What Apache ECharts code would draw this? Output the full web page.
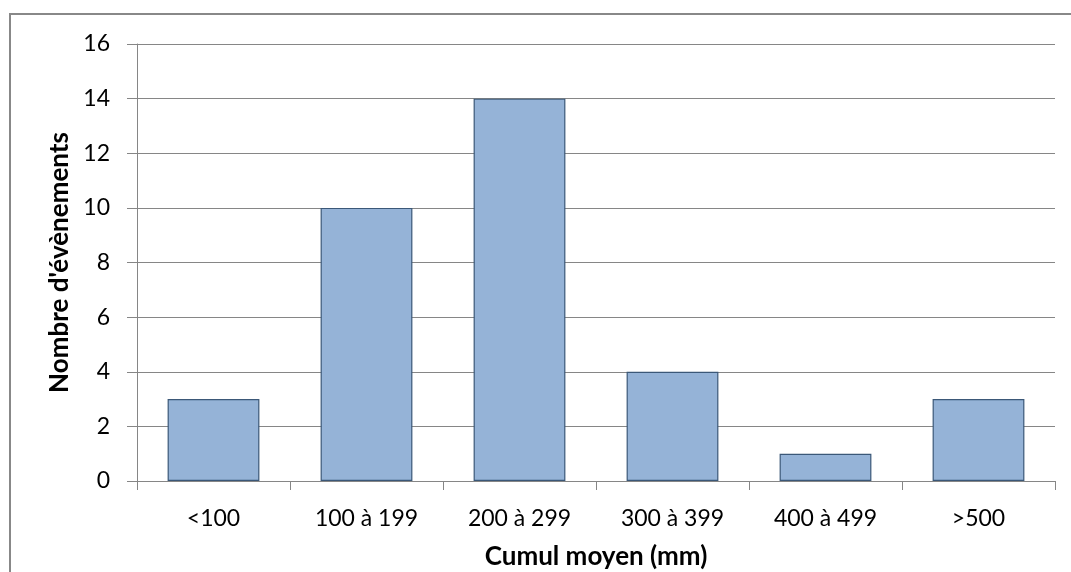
<!DOCTYPE html>
<html><head><meta charset="utf-8">
<script src="https://cdn.jsdelivr.net/npm/echarts@6/dist/echarts.min.js"></script>
<style>html,body{margin:0;padding:0;background:#fff}#c{width:1071px;height:572px}</style>
</head><body><div id="c"></div>
<script>
const categories = ['<100', '100 à 199', '200 à 299', '300 à 399', '400 à 499', '>500'];
const counts = [3, 10, 14, 4, 1, 3];
const yTicks = { min: 0, max: 16, interval: 2 };
const xTitle = 'Cumul moyen (mm)';
const yTitle = "Nombre d'évènements";

const FONT = 'Lato';
const chart = echarts.init(document.getElementById('c'), null, { renderer: 'canvas' });
chart.setOption({
  animation: false,
  backgroundColor: '#fff',
  graphic: [{
    type: 'rect', shape: { x: 10, y: 14, width: 1200, height: 700 },
    style: { fill: 'none', stroke: '#888888', lineWidth: 2 }, silent: true
  }],
  grid: { left: 137, right: 16, top: 44, bottom: 91, containLabel: false, outerBoundsMode: 'none' },
  xAxis: {
    type: 'category', data: categories,
    name: xTitle, nameLocation: 'middle', nameGap: 63,
    nameTextStyle: { fontFamily: FONT, fontWeight: 'bold', fontSize: 26, color: '#000' },
    axisLine: { lineStyle: { color: '#868686', width: 1 } },
    axisTick: { show: true, length: 9, lineStyle: { color: '#868686' } },
    axisLabel: { fontFamily: FONT, fontSize: 23, color: '#000', margin: 26 },
    splitLine: { show: false }
  },
  yAxis: {
    type: 'value', min: yTicks.min, max: yTicks.max, interval: yTicks.interval,
    name: yTitle, nameLocation: 'middle', nameGap: 64, nameRotate: 90,
    nameTextStyle: { fontFamily: FONT, fontWeight: 'bold', fontSize: 26, color: '#000' },
    axisLine: { show: true, lineStyle: { color: '#868686', width: 1 } },
    axisTick: { show: true, length: 10, lineStyle: { color: '#868686' } },
    axisLabel: { fontFamily: FONT, fontSize: 23, color: '#000', margin: 27 },
    splitLine: { show: true, lineStyle: { color: '#868686', width: 1 } }
  },
  series: [{
    type: 'bar', data: counts, barCategoryGap: '40%',
    itemStyle: { color: '#95B3D7', borderColor: '#3B5878', borderWidth: 1.2 }
  }]
});
</script></body></html>
